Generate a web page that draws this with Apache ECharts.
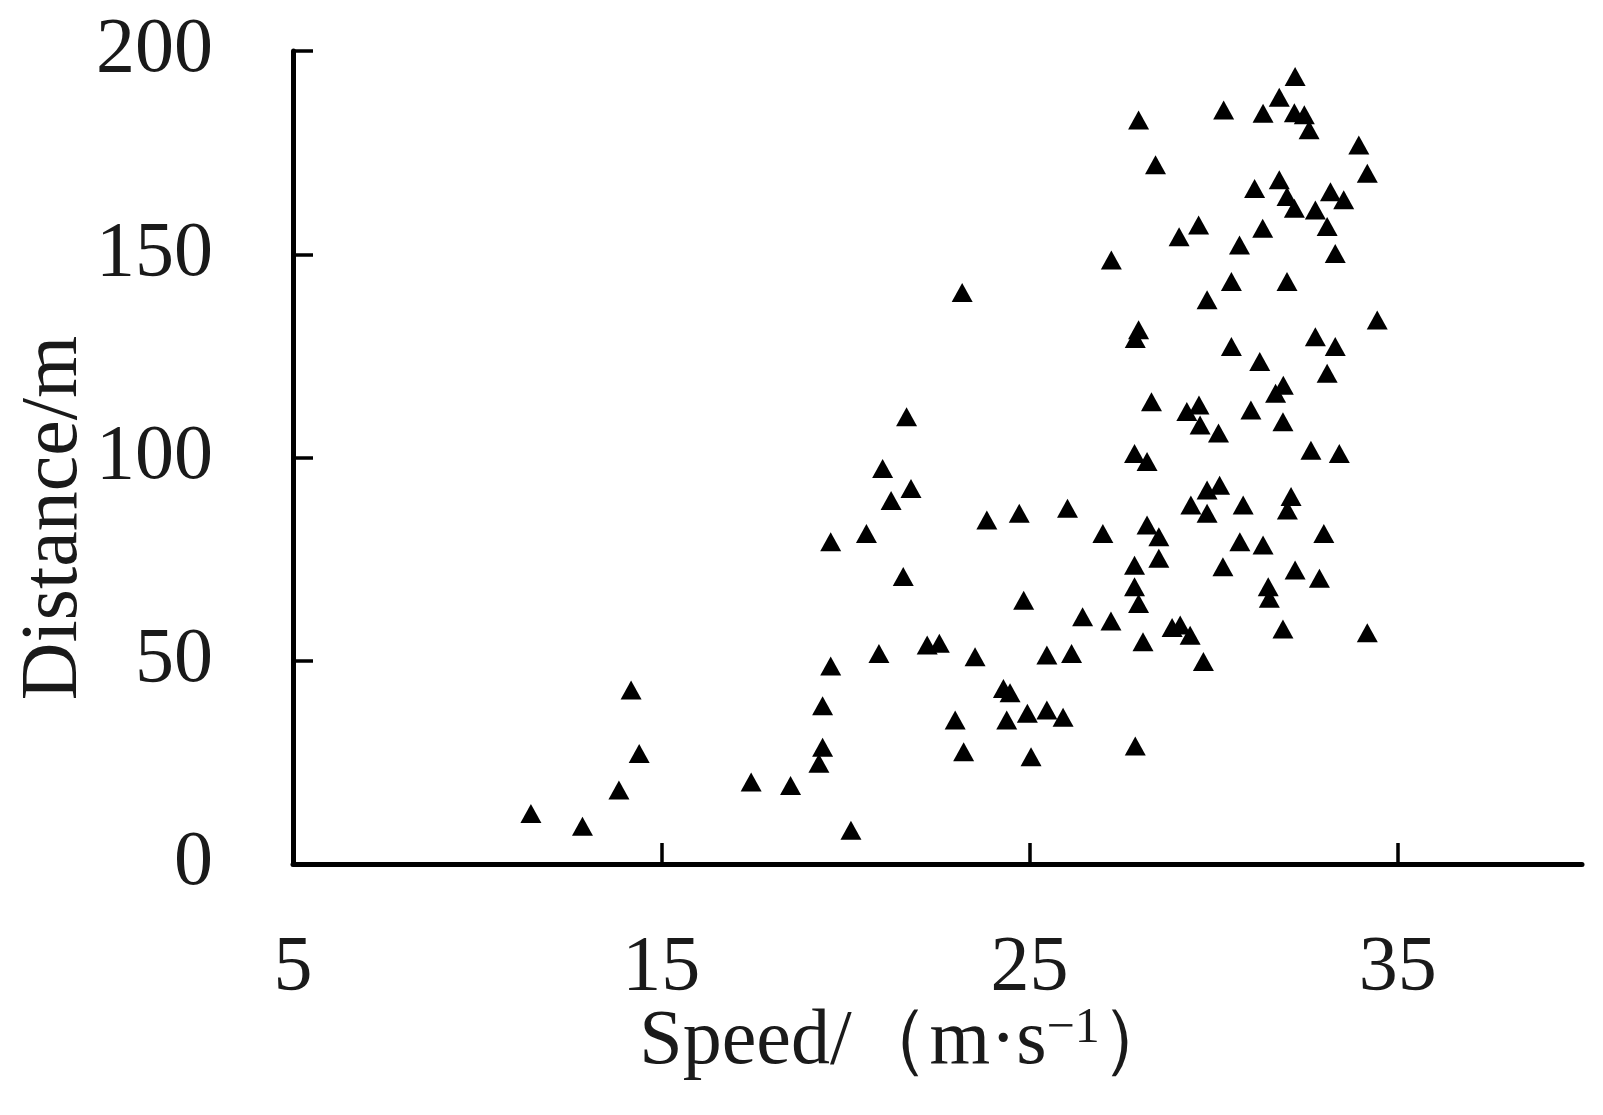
<!DOCTYPE html>
<html>
<head>
<meta charset="utf-8">
<script src="https://cdn.jsdelivr.net/npm/echarts@6/dist/echarts.min.js"></script>
<style>
html,body{margin:0;padding:0;background:#fff;}
#chart{width:1603px;height:1115px;}
</style>
</head>
<body>
<div id="chart"></div>
<script>
// Speed (m/s) of each observation
const speed = [
  11.46, 12.86, 13.85, 14.18, 14.40, 17.44, 18.51, 19.60, 19.38, 19.38,
  19.28, 20.15, 20.91, 22.22, 22.55, 23.52, 22.98, 23.21, 24.29, 24.47,
  24.38, 24.94, 25.47, 25.91, 25.04, 25.47, 26.14, 21.66, 21.01, 21.78,
  21.24, 19.60, 20.57, 21.57, 23.84, 24.72, 26.03, 26.99, 24.84, 26.44,
  27.21, 23.17, 27.22, 32.21, 31.78, 30.27, 31.34, 32.19, 32.46, 32.59,
  27.96, 33.94, 28.42, 34.17, 31.11, 31.78, 31.99, 32.19, 32.76, 33.17,
  33.53, 33.08, 31.33, 29.59, 29.06, 30.70, 33.30, 30.48, 31.99, 29.82,
  34.44, 27.96, 27.87, 32.76, 30.48, 33.30, 31.25, 33.08, 31.89, 31.68,
  28.31, 31.01, 31.88, 29.27, 29.60, 29.63, 30.13, 32.64, 33.41, 27.85,
  28.19, 29.82, 30.16, 29.38, 29.82, 30.80, 32.10, 32.00, 32.99, 28.19,
  28.51, 28.51, 30.71, 31.34, 27.85, 27.85, 27.96, 30.25, 32.21, 32.87,
  31.48, 31.51, 31.88, 34.17, 28.08, 28.87, 29.09, 29.36, 29.72, 27.87
];
// Distance (m) of each observation
const distance = [
  12.4, 9.3, 18.2, 42.8, 27.2, 20.2, 19.3, 48.7, 38.9, 28.7,
  24.8, 8.3, 51.8, 53.9, 54.3, 51.0, 35.4, 27.6, 43.2, 42.1,
  35.4, 37.1, 37.9, 36.1, 26.4, 51.4, 51.8, 110.0, 97.3, 92.4,
  89.4, 79.3, 81.3, 70.7, 84.6, 86.3, 87.5, 81.3, 64.9, 60.8,
  59.8, 140.6, 148.6, 193.7, 188.6, 185.5, 184.7, 184.8, 184.3, 180.6,
  183.0, 176.9, 172.0, 169.9, 166.2, 168.3, 164.2, 161.3, 160.9, 165.4,
  163.4, 156.8, 156.4, 157.2, 154.3, 152.3, 150.2, 143.3, 143.3, 138.8,
  133.8, 131.4, 129.3, 129.7, 127.3, 127.3, 123.6, 120.7, 117.8, 115.8,
  113.7, 111.7, 108.8, 111.3, 112.9, 108.0, 106.0, 101.8, 101.0, 101.0,
  99.0, 92.0, 93.2, 88.3, 86.3, 88.3, 90.4, 87.1, 81.3, 83.4,
  80.5, 75.2, 79.3, 78.5, 73.5, 68.2, 64.1, 73.1, 72.3, 70.3,
  68.2, 65.4, 57.8, 56.9, 54.7, 58.2, 58.8, 56.3, 49.8, 29.0
];
const xTicks = [5, 15, 25, 35];
const yTicks = [0, 50, 100, 150, 200];
const xName = 'Speed/（m·s';
const xNameSup = '−1';
const yName = 'Distance/m';

const points = speed.map((s, i) => [s, distance[i]]);

const chart = echarts.init(document.getElementById('chart'), null, {renderer: 'canvas'});
chart.setOption({
  backgroundColor: '#ffffff',
  animation: false,
  grid: {left: 293, right: 21, top: 51, bottom: 251, containLabel: false, outerBoundsMode: 'none'},
  xAxis: {
    type: 'value', min: 5, max: 40, interval: 10,
    axisLine: {show: true, onZero: false, lineStyle: {color: '#000', width: 5}},
    axisTick: {show: true, inside: true, length: 21, customValues: xTicks, lineStyle: {color: '#000', width: 3.5}},
    axisLabel: {customValues: xTicks, margin: 66, color: '#1a1a1a', fontFamily: 'Liberation Serif', fontSize: 78},
    splitLine: {show: false},
    name: '{a|' + xName + '}{b|' + xNameSup + '}{a|）}',
    nameLocation: 'middle', nameGap: 140, nameMoveOverlap: false,
    nameTextStyle: {
      padding: [0, 58, 0, 0],
      rich: {
        a: {fontFamily: 'Liberation Serif', fontSize: 78, color: '#1a1a1a'},
        b: {fontFamily: 'Liberation Serif', fontSize: 50, color: '#1a1a1a', padding: [0, 0, 28, 0]}
      }
    }
  },
  yAxis: {
    type: 'value', min: 0, max: 200, interval: 50,
    axisLine: {show: true, onZero: false, lineStyle: {color: '#000', width: 5}},
    axisTick: {show: true, inside: true, length: 20, customValues: yTicks, lineStyle: {color: '#000', width: 3.5}},
    axisLabel: {customValues: yTicks, margin: 80, color: '#1a1a1a', fontFamily: 'Liberation Serif', fontSize: 78},
    splitLine: {show: false},
    name: yName, nameLocation: 'middle', nameGap: 198, nameRotate: 90, nameMoveOverlap: false,
    nameTextStyle: {fontFamily: 'Liberation Serif', fontSize: 80, color: '#1a1a1a', padding: [0, 121, 0, 0]}
  },
  series: [{
    type: 'scatter',
    data: points,
    symbol: 'triangle',
    symbolSize: [21, 19],
    itemStyle: {color: '#000', opacity: 1},
    emphasis: {disabled: true}
  }]
});
</script>
</body>
</html>
